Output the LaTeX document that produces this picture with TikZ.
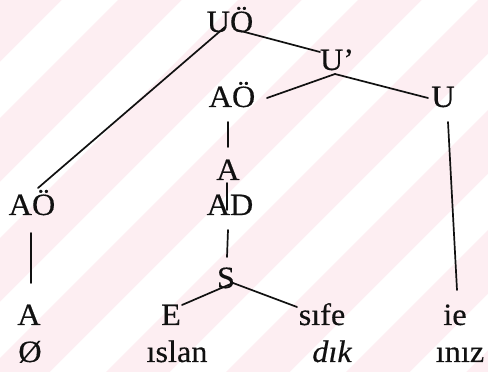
\documentclass[tikz,border=0pt]{standalone}
\usepackage{fontspec}
\setmainfont[FakeStretch=1.04,FakeBold=0.4]{Liberation Serif}
\usetikzlibrary{calc}
\definecolor{ink}{HTML}{111111}
\definecolor{wmpink}{HTML}{FDEEF2}
\tikzset{
  lbl/.style={anchor=base,inner sep=0pt,font=\fontsize{31}{33}\selectfont,text=ink},
  edge/.style={line width=1.7pt,draw=ink,line cap=round},
  band/.style={fill=white,draw=none},
}
\begin{document}
\begin{tikzpicture}[x=1pt,y=1pt]
  \useasboundingbox (0,0) rectangle (488,372);
  % watermark stripes
  \begin{scope}
    \clip (0,0) rectangle (488,372);
    \fill[wmpink] (0,0) rectangle (488,372);
    \foreach \c in {-402,-282,-162,-42,78,198,318,438}{
      \fill[band] (\c-28,0) -- (\c+28,0) -- (\c+400,372) -- (\c+344,372) -- cycle;
    }
  \end{scope}
  % labels of the tree
  \foreach \name/\x/\y/\txt in {
    uo/230/340/{UÖ}, ubar/337/302/{U’}, aomid/232/265/{AÖ}, u/443/265/{U},
    amid/228/192/{A}, ad/230/157/{AD}, aoleft/32/157/{AÖ}, s/226/84/{S},
    aleft/29/47/{A}, e/171/47/{E}, sife/322/47/{sıfe}, ie/455/47/{ie},
    null/30/10/{Ø}, islan/177/10/{ıslan}, dik/332/10/{\itshape dık}, iniz/460/10/{ınız}%
  }{
    \node[lbl] (\name) at (\x,\y) {\txt};
  }
  % branches
  \foreach \a/\ax/\ay/\b/\bx/\by in {
    uo/-5/5/aoleft/6/27, uo/7/2/ubar/-17/18,
    ubar/-2/-4/aomid/35/9, ubar/-2/-4/u/-15/9,
    aomid/-4/-15/amid/0/33, amid/-1/-3/ad/-3/5, ad/-2/-15/s/1/31,
    aoleft/-1/-18/aleft/2/42, u/5/-15/ie/2/35,
    s/7/5/e/11/20, s/7/5/sife/-25/18%
  }{
    \draw[edge] ($(\a.base)+(\ax,\ay)$) -- ($(\b.base)+(\bx,\by)$);
  }
\end{tikzpicture}
\end{document}
